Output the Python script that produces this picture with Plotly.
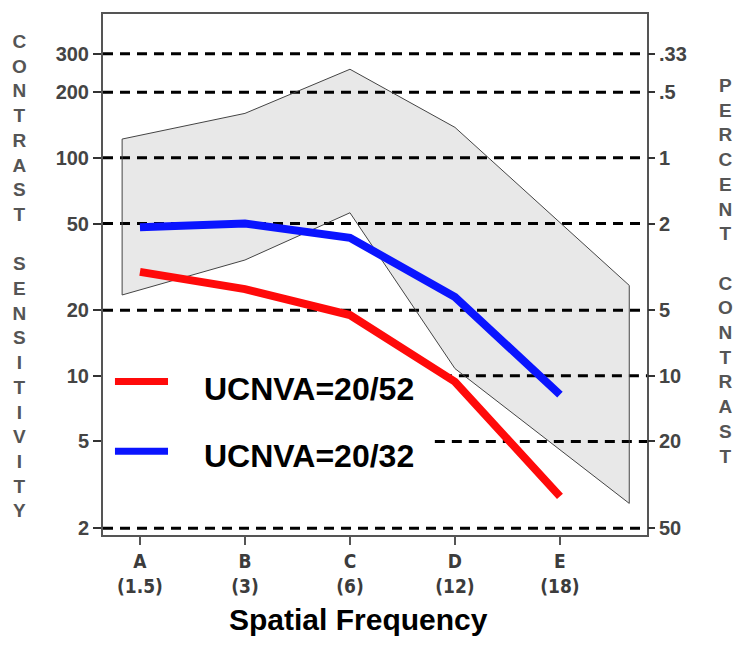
import plotly.graph_objects as go

# ---- data ----
categories = ["A<br>(1.5)", "B<br>(3)", "C<br>(6)", "D<br>(12)", "E<br>(18)"]
cat_pos = [0, 1, 2, 3, 4]
red_vals = [30, 25, 19, 9.4, 2.8]        # UCNVA=20/52
blue_vals = [48, 50, 43, 23, 8.2]        # UCNVA=20/32
band_x = [-0.17, 1, 2, 3, 4.66]
band_upper = [122, 160, 255, 138, 26]
band_lower = [23.5, 34, 56, 10.8, 2.6]
cs_ticks = [300, 200, 100, 50, 20, 10, 5, 2]
cs_labels = ["300", "200", "100", "50", "20", "10", "5", "2"]
pc_labels = [".33", ".5", "1", "2", "5", "10", "20", "50"]
series_names = ["UCNVA=20/52", "UCNVA=20/32"]
series_colors = ["#ff0a0a", "#0a14ff"]

# ---- styling ----
YRANGE = [0.27, 2.66]
XRANGE = [-0.352, 4.829]
LABEL_FONT = dict(family="Arial, Liberation Sans, sans-serif", size=20, color="#444444", weight="bold")
NARROW_FONT = dict(family="DejaVu Sans Condensed, Liberation Sans Narrow, Arial Narrow, sans-serif",
                   size=19, color="#3c3c3c", weight="bold")
partial_start = {10: 0.623, 5: 0.61}

fig = go.Figure()

# normal range band
poly_x = band_x + band_x[::-1] + [band_x[0]]
poly_y = band_upper + band_lower[::-1] + [band_upper[0]]
fig.add_trace(go.Scatter(x=poly_x, y=poly_y, mode="lines", fill="toself",
                         fillcolor="rgba(0,0,0,0.09)",
                         line=dict(color="#444444", width=1),
                         showlegend=False, hoverinfo="skip"))

for vals, name, col in zip([red_vals, blue_vals], series_names, series_colors):
    fig.add_trace(go.Scatter(x=cat_pos, y=vals, mode="lines", name=name,
                             line=dict(color=col, width=8), showlegend=False))

# invisible trace for right axis
fig.add_trace(go.Scatter(x=[None], y=[None], yaxis="y2", showlegend=False, hoverinfo="skip"))

# dashed reference lines
for v in cs_ticks:
    fig.add_shape(type="line", xref="x domain", yref="y",
                  x0=partial_start.get(v, 0), x1=1, y0=v, y1=v,
                  line=dict(color="black", width=3, dash="10px,7px"), layer="below")

# legend samples
legend_y = [0.2945, 0.1606]
text_y = [0.281, 0.151]
for ly, ty, name, col in zip(legend_y, text_y, series_names, series_colors):
    fig.add_shape(type="line", xref="paper", yref="paper", x0=0.022, x1=0.1195,
                  y0=ly, y1=ly, line=dict(color=col, width=7))
    fig.add_annotation(xref="paper", yref="paper", x=0.182, y=ty, text=name,
                       showarrow=False, xanchor="left", yanchor="middle",
                       font=dict(family="Arial, Liberation Sans, sans-serif", size=32,
                                 color="black", weight="bold"))

# vertical axis titles
left_title = "<br>".join(ch if ch != " " else "&nbsp;" for ch in "CONTRAST SENSITIVITY")
right_title = "<br>".join(ch if ch != " " else "&nbsp;" for ch in "PERCENT CONTRAST")
fig.add_annotation(xref="paper", yref="paper", x=-0.154, y=0.497, text=left_title,
                   showarrow=False, xanchor="center", yanchor="middle",
                   font=dict(family="Arial, Liberation Sans, sans-serif", size=19,
                             color="#555555", weight="bold"))
fig.add_annotation(xref="paper", yref="paper", x=1.145, y=0.507, text=right_title,
                   showarrow=False, xanchor="center", yanchor="middle",
                   font=dict(family="Arial, Liberation Sans, sans-serif", size=19,
                             color="#555555", weight="bold"))
fig.add_annotation(xref="paper", yref="paper", x=0.469, y=-0.162, text="Spatial Frequency",
                   showarrow=False, xanchor="center", yanchor="middle",
                   font=dict(family="Arial, Liberation Sans, sans-serif", size=30,
                             color="black", weight="bold"))

fig.update_layout(
    width=750, height=647,
    margin=dict(l=103, r=103, t=12, b=112),
    paper_bgcolor="white", plot_bgcolor="white",
    xaxis=dict(range=XRANGE, tickvals=cat_pos, ticktext=categories,
               showgrid=False, zeroline=False, showline=True, mirror=True,
               linecolor="#555555", linewidth=2,
               ticks="outside", ticklen=8, tickwidth=2, tickcolor="#555555",
               tickfont=NARROW_FONT),
    yaxis=dict(type="log", range=YRANGE, tickvals=cs_ticks, ticktext=cs_labels,
               showgrid=False, zeroline=False, showline=True, mirror=True,
               linecolor="#555555", linewidth=2,
               ticks="outside", ticklen=8, tickwidth=2, tickcolor="#333333",
               tickfont=LABEL_FONT),
    yaxis2=dict(type="log", range=YRANGE, overlaying="y", side="right",
                tickvals=cs_ticks, ticktext=pc_labels,
                showgrid=False, zeroline=False, showline=False,
                ticks="outside", ticklen=7, tickwidth=2, tickcolor="#333333",
                tickfont=LABEL_FONT),
    showlegend=False,
)

fig.write_html("out.html", config={"displayModeBar": False},
               post_script="document.body.style.margin='0';")
